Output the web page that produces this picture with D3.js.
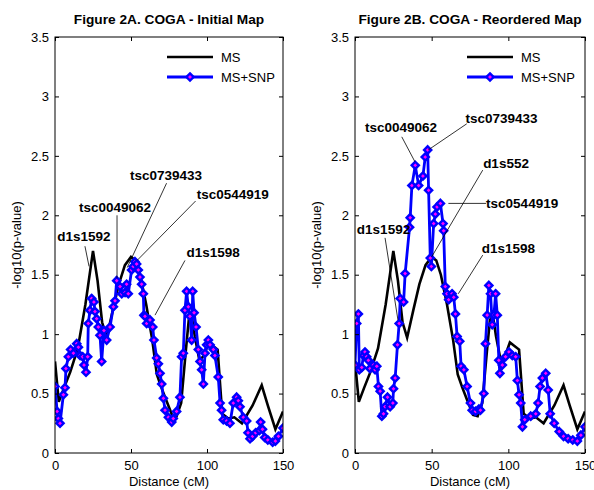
<!DOCTYPE html>
<html><head><meta charset="utf-8">
<script src="https://cdn.jsdelivr.net/npm/d3@7/dist/d3.min.js"></script>
<style>
body{margin:0;background:#fff;}
text{font-family:"Liberation Sans",Arial,Helvetica,sans-serif;}
</style></head>
<body><svg id="c" width="594" height="490"></svg>
<script>
// ---- data ----
const titles = ["Figure 2A. COGA - Initial Map", "Figure 2B. COGA - Reordered Map"];
const seriesNames = ["MS", "MS+SNP"];
const xTicks = [0, 50, 100, 150];
const yTicks = [0, 0.5, 1, 1.5, 2, 2.5, 3, 3.5];
const xLabel = "Distance (cM)";
const yLabel = "-log10(p-value)";

// MS (same in both maps)
const msX = [0,2.5,6,10,15,20,25,28,31,34,38,42,46,50,53,56,60,64,67,70,73,77,80,83,86,88,90,92,95,98,101,104,107,110,114,118,123,130,136,140,145,150];
const msY = [0.77,0.43,0.55,0.68,0.88,1.25,1.70,1.45,1.10,0.97,1.20,1.42,1.58,1.65,1.62,1.50,1.25,0.95,0.66,0.55,0.45,0.32,0.31,0.42,0.85,1.12,1.15,0.98,0.78,0.82,0.93,0.90,0.87,0.33,0.29,0.30,0.25,0.40,0.57,0.40,0.20,0.35];

// MS+SNP, initial map
const snpAX = [0,1.4,2.2,3.3,5.5,6.6,7.2,8.8,10.3,12.1,14.3,15.4,16.5,18.2,19.1,20.4,21.5,21.9,23,24.1,25.6,26.3,27.4,28.5,29.6,30.7,32.2,34,36.2,38.4,39.5,40.6,42.8,43.9,46.1,47.1,48.2,50.4,51.5,52.6,53.7,54.8,55.9,57,58.1,58.5,59.2,60.3,62.5,64.3,65.1,66.9,68,69.1,70.2,71.3,72.4,74.6,76.8,77.8,80,82.2,83.3,84.4,85.5,86.6,87.7,88.8,89.9,90.6,91.5,92.8,94.3,95.4,96.5,97.6,98.7,99.8,100.9,102,104.2,105.2,107.4,108.6,109.6,110.7,112.9,115.1,117.3,119.5,120.6,121.7,123.9,126.1,127,128.3,130,132,134.5,135.3,136.5,138,140,143.2,145,147,150];
const snpAY = [0.56,0.35,0.29,0.25,0.49,0.55,0.71,0.81,0.87,0.84,0.92,0.89,0.82,0.81,0.74,0.68,0.81,1.09,1.20,1.30,1.27,1.19,1.13,1.06,0.99,0.77,1.03,0.95,1.06,1.23,1.28,1.45,1.40,1.34,1.35,1.42,1.34,1.54,1.57,1.61,1.59,1.54,1.48,1.42,1.34,1.16,1.15,1.09,1.12,1.06,0.95,0.80,0.75,0.67,0.58,0.46,0.36,0.30,0.26,0.29,0.35,0.47,0.81,0.84,1.20,1.36,1.23,1.15,0.95,1.36,1.18,1.06,0.87,0.77,0.70,0.58,0.84,0.91,0.95,0.91,0.87,0.82,0.64,0.42,0.36,0.28,0.27,0.25,0.42,0.47,0.44,0.39,0.30,0.27,0.17,0.12,0.14,0.17,0.19,0.26,0.20,0.13,0.11,0.09,0.10,0.14,0.21];

// MS+SNP, reordered map
const snpBX = [0,1.1,2.2,2.8,4.4,5.5,6.5,7.6,8.7,9.8,12,13.1,14.2,15.3,16.4,17.5,18.6,19.6,21.2,22.9,24.7,25.1,26.2,27.7,28.8,29.5,31.7,32.7,35.6,36,37.1,39.3,41.5,44.3,45.8,47.4,48,49.1,49.8,51.3,52.4,53.5,55.7,57.4,57.8,58.9,60,61.1,63.3,64.4,65.5,66.6,68.3,69.2,71,73.1,75.3,76.4,78.6,80.8,81.8,84,85.1,86.2,87.3,88.4,89.5,90.6,91.7,92.8,93.8,94.5,96.1,98.2,100.4,102.6,104.8,105.9,107,108.1,109.2,110.7,114.6,117.9,119.4,120.7,122.2,124.4,126,127.3,129.9,133.2,136,139,142,145,147.3,150];
const snpBY = [0.74,1.09,1.17,0.70,0.72,0.82,0.85,0.81,0.78,0.71,0.74,0.70,0.73,0.56,0.52,0.31,0.33,0.39,0.47,0.39,0.42,0.54,0.63,0.91,1.09,1.30,1.27,1.51,1.90,1.98,2.25,2.42,2.25,2.33,2.49,2.55,2.21,1.64,1.57,1.93,2.01,2.07,2.10,1.93,1.87,1.40,1.34,1.29,1.34,1.31,1.17,0.98,0.94,0.73,0.70,0.56,0.42,0.36,0.35,0.37,0.36,0.50,0.92,1.16,1.41,1.34,1.08,1.16,1.34,1.16,0.78,0.67,0.74,0.81,0.85,0.82,0.81,0.61,0.49,0.42,0.22,0.28,0.31,0.33,0.42,0.56,0.63,0.67,0.53,0.33,0.25,0.18,0.14,0.12,0.11,0.10,0.15,0.22];

// annotations: label, text anchor point (cM, value) and leader ends (cM, value)
const annA = [
  {t:"d1s1592",    tx:19.0, ty:1.78, lx1:19.7, ly1:1.74, lx2:22.4, ly2:1.57},
  {t:"tsc0049062", tx:39.5, ty:2.03, lx1:40.8, ly1:2.00, lx2:40.8, ly2:1.47},
  {t:"tsc0739433", tx:73.0, ty:2.30, lx1:73.4, ly1:2.27, lx2:47.5, ly2:1.56},
  {t:"tsc0544919", tx:117.0,ty:2.14, lx1:92.5, ly1:2.12, lx2:54.0, ly2:1.62},
  {t:"d1s1598",    tx:104.0,ty:1.65, lx1:85.5, ly1:1.62, lx2:65.8, ly2:1.16}
];
const annB = [
  {t:"d1s1592",    tx:18.6, ty:1.84, lx1:19.6, ly1:1.81, lx2:28.0, ly2:1.12},
  {t:"tsc0049062", tx:30.0, ty:2.70, lx1:30.5, ly1:2.66, lx2:39.1, ly2:2.45},
  {t:"tsc0739433", tx:95.6, ty:2.78, lx1:72.9, ly1:2.77, lx2:47.8, ly2:2.55},
  {t:"d1s552",     tx:98.5, ty:2.40, lx1:83.3, ly1:2.38, lx2:50.0, ly2:1.65},
  {t:"tsc0544919", tx:109.0,ty:2.06, lx1:60.9, ly1:2.10, lx2:85.5, ly2:2.10},
  {t:"d1s1598",    tx:100.0,ty:1.68, lx1:83.3, ly1:1.665,lx2:67.4, ly2:1.34}
];

const panels = [
  {title:titles[0], x0:55,  x1:283, snpX:snpAX, snpY:snpAY, ann:annA},
  {title:titles[1], x0:355, x1:585, snpX:snpBX, snpY:snpBY, ann:annB}
];
const yTop = 37, yBot = 453;

const svg = d3.select("#c");
const diamond = "M0,-3.6L3.6,0L0,3.6L-3.6,0Z";

panels.forEach((p, i) => {
  const x = d3.scaleLinear().domain([0,150]).range([p.x0, p.x1]);
  const y = d3.scaleLinear().domain([0,3.5]).range([yBot, yTop]);
  const g = svg.append("g");

  const cid = "clip"+i;
  svg.append("clipPath").attr("id", cid).append("rect")
    .attr("x", p.x0).attr("y", yTop).attr("width", p.x1-p.x0).attr("height", yBot-yTop);
  const dg = g.append("g").attr("clip-path", `url(#${cid})`);

  const line = d3.line().x(d=>x(d[0])).y(d=>y(d[1]));
  const ms = msX.map((v,k)=>[v, msY[k]]);
  const snp = p.snpX.map((v,k)=>[v, p.snpY[k]]);

  dg.append("path").datum(ms).attr("d", line)
    .attr("fill","none").attr("stroke","#000").attr("stroke-width",2.6);
  dg.append("path").datum(snp).attr("d", line)
    .attr("fill","none").attr("stroke","#0000ff").attr("stroke-width",2.8);
  dg.selectAll("path.mk").data(snp).enter().append("path").attr("class","mk")
    .attr("d", diamond).attr("transform", d=>`translate(${x(d[0])},${y(d[1])})`)
    .attr("fill","#ff00ff").attr("stroke","#0000ff").attr("stroke-width",2.4);

  p.ann.forEach(a => {
    g.append("line").attr("x1", x(a.lx1)).attr("y1", y(a.ly1)).attr("x2", x(a.lx2)).attr("y2", y(a.ly2))
      .attr("stroke","#000").attr("stroke-width",0.8);
    g.append("text").attr("x", x(a.tx)).attr("y", y(a.ty)).attr("text-anchor","middle")
      .attr("font-size","13.5px").attr("font-weight","bold").attr("fill","#000").text(a.t);
  });

  const fmt = d3.format("");
  const ax = (gen, tx, ty, labels) => {
    const a = g.append("g").attr("transform", `translate(${tx},${ty})`).call(gen);
    a.select(".domain").remove();
    a.selectAll("text").attr("font-size","13px").attr("fill","#000")
      .style("font-family","'Liberation Sans',Arial,sans-serif");
    if (!labels) a.selectAll("text").remove();
    a.selectAll("line").attr("stroke","#000");
    return a;
  };
  ax(d3.axisLeft(y).tickValues(yTicks).tickSize(-4).tickPadding(6).tickFormat(fmt), p.x0, 0, true);
  ax(d3.axisRight(y).tickValues(yTicks).tickSize(-4), p.x1, 0, false);
  ax(d3.axisBottom(x).tickValues(xTicks).tickSize(-4).tickPadding(8).tickFormat(fmt), 0, yBot, true);
  ax(d3.axisTop(x).tickValues(xTicks).tickSize(-4), 0, yTop, false);

  g.append("rect").attr("x", p.x0).attr("y", yTop).attr("width", p.x1-p.x0).attr("height", yBot-yTop)
    .attr("fill","none").attr("stroke","#000").attr("stroke-width",1);

  g.append("text").attr("x",(p.x0+p.x1)/2).attr("y",24).attr("text-anchor","middle")
    .attr("font-size","13.7px").attr("font-weight","bold").text(p.title);
  g.append("text").attr("x",(p.x0+p.x1)/2).attr("y",486).attr("text-anchor","middle")
    .attr("font-size","13px").text(xLabel);
  g.append("text").attr("transform",`translate(${p.x0-34},${(yTop+yBot)/2}) rotate(-90)`)
    .attr("text-anchor","middle").attr("font-size","13px").text(yLabel);

  const lx = p.x0 + 112;
  g.append("line").attr("x1",lx).attr("x2",lx+46).attr("y1",57).attr("y2",57)
    .attr("stroke","#000").attr("stroke-width",2.6);
  g.append("text").attr("x",lx+54).attr("y",57).attr("dy","0.35em").attr("font-size","13px").text(seriesNames[0]);
  g.append("line").attr("x1",lx).attr("x2",lx+46).attr("y1",77).attr("y2",77)
    .attr("stroke","#0000ff").attr("stroke-width",2.8);
  g.append("path").attr("d",diamond).attr("transform",`translate(${lx+23},77)`)
    .attr("fill","#ff00ff").attr("stroke","#0000ff").attr("stroke-width",2.4);
  g.append("text").attr("x",lx+54).attr("y",77).attr("dy","0.35em").attr("font-size","13px").text(seriesNames[1]);
});
</script></body></html>
